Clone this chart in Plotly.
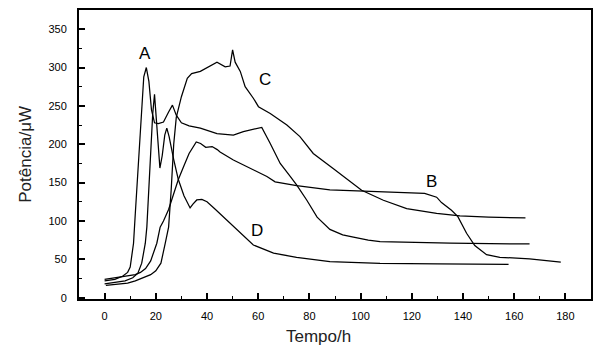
import plotly.graph_objects as go

# Curve A
a_x = [0, 4, 7, 9, 10, 11, 11.3, 12, 13.3, 14.5, 15.3, 16.3, 17.3, 18.3, 19.5, 21, 23, 25, 26.5, 28, 30, 33, 37.4, 43.9, 50.3, 54.2, 61.4, 64.7, 68.6, 72.5, 75, 79, 83, 88, 93, 97.2, 103, 107.6, 120, 135, 166]
a_y = [22, 24, 28, 33, 40, 60, 71, 110, 179, 250, 288, 300, 282, 245, 228, 227, 229, 242, 251, 238, 228, 224, 221, 214, 212, 216.5, 222, 201, 175, 158, 147, 127, 105, 89, 82, 79, 75, 73, 72, 71, 70]

# Curve B
b_x = [0, 4, 8, 12, 14, 16, 18, 20.4, 21.7, 23, 25, 27, 28.8, 31, 33, 35.8, 37.5, 39.5, 42, 44, 45.1, 50.3, 56.8, 63.4, 66.6, 75, 88, 100, 107.6, 125, 129.7, 131.6, 135.5, 138, 141.4, 144.6, 149.2, 154.4, 166, 178.2]
b_y = [24, 26, 28, 30, 33, 38, 48, 71, 92, 100, 115, 135, 154, 172, 188, 203, 201, 196, 197, 193, 190, 179.5, 168.7, 158, 151, 146, 140.5, 139, 137.5, 136, 131, 124, 114, 105.6, 84, 68, 56, 52.7, 50.5, 46.5]

# Curve C
c_x = [0.5, 3, 6, 9, 12, 15, 18, 20, 22, 23.7, 25, 26, 27, 28, 30, 32.3, 34, 37.4, 40, 43.9, 47.1, 49, 50, 51, 53, 54.9, 58.1, 60.1, 64.7, 71.2, 76.3, 81.5, 89.4, 95.9, 100.4, 108.9, 118, 129.7, 138.8, 150, 164.4]
c_y = [16, 17, 18, 19, 22, 26, 30, 35, 45, 71, 92, 140, 200, 235, 262, 286, 292, 295, 300, 307, 301, 302, 323, 307, 295, 275, 260, 249, 240, 225, 210, 188, 168, 151, 140, 127, 116, 110, 106.5, 105, 104]

# Curve D
d_x = [0, 4, 8, 11, 13, 14.5, 15.9, 16.5, 17.8, 18.8, 19.5, 20.2, 21, 21.6, 22.5, 23.5, 24.3, 25.2, 27, 28.8, 31, 33.4, 34.5, 36, 38, 40, 43, 46.4, 51.7, 58.1, 66, 75, 88, 107.6, 130, 157.8]
d_y = [18, 20, 22, 26, 32, 45, 71, 92, 179, 240, 265, 230, 185, 169, 185, 212, 221, 210, 180, 154, 133, 117, 122, 127.4, 128, 125, 116, 105.6, 88.3, 68.7, 58, 52.7, 47, 44.8, 44, 43.5]

labels = ["A", "B", "C", "D"]
label_x = [15.9, 127.8, 62.6, 59.6]
label_y = [318, 152, 284, 88]

x_ticks = [0, 20, 40, 60, 80, 100, 120, 140, 160, 180]
y_ticks = [0, 50, 100, 150, 200, 250, 300, 350]

fig = go.Figure()
for xs, ys in [(a_x, a_y), (b_x, b_y), (c_x, c_y), (d_x, d_y)]:
    fig.add_trace(go.Scatter(x=xs, y=ys, mode="lines",
                             line=dict(color="black", width=1.25),
                             showlegend=False, hoverinfo="skip"))

for t, lx, ly in zip(labels, label_x, label_y):
    fig.add_annotation(x=lx, y=ly, text=t, showarrow=False,
                       font=dict(family="Liberation Sans", size=17, color="black"))

fig.add_annotation(x=0.467, y=-0.131, xref="paper", yref="paper", text="Tempo/h",
                   showarrow=False, yanchor="middle", xanchor="center",
                   font=dict(family="Liberation Sans", size=17, color="#222222"))
fig.add_annotation(x=-0.105, y=0.5, xref="paper", yref="paper", text="Potência/μW",
                   showarrow=False, textangle=-90, xanchor="center", yanchor="middle",
                   font=dict(family="Liberation Sans", size=17, color="#222222"))

# page body has an 8px default margin: shrink figure and shift margins to compensate
fig.update_layout(
    template="none",
    width=605, height=348,
    margin=dict(l=71, r=22, t=2, b=57, autoexpand=False),
    paper_bgcolor="white", plot_bgcolor="white",
    font=dict(family="Liberation Sans", size=11, color="black"),
)
fig.update_xaxes(range=[-10, 190], tickvals=x_ticks, ticks="inside", ticklen=6,
                 tickwidth=1.5, tickcolor="black", showline=True, linewidth=2,
                 linecolor="black", mirror=True, showgrid=False, zeroline=False,
                 automargin=False, ticklabelstandoff=6,
                 minor=dict(dtick=10, tick0=0, ticks="inside", ticklen=3,
                            tickcolor="black", tickwidth=1, showgrid=False))
fig.update_yaxes(range=[-1.7, 375], tickvals=y_ticks, ticks="inside", ticklen=6,
                 tickwidth=1.5, tickcolor="black", showline=True, linewidth=2,
                 linecolor="black", mirror=True, showgrid=False, zeroline=False,
                 automargin=False, ticklabelstandoff=8,
                 minor=dict(dtick=25, tick0=0, ticks="inside", ticklen=3,
                            tickcolor="black", tickwidth=1, showgrid=False))

fig.write_html("out.html")
